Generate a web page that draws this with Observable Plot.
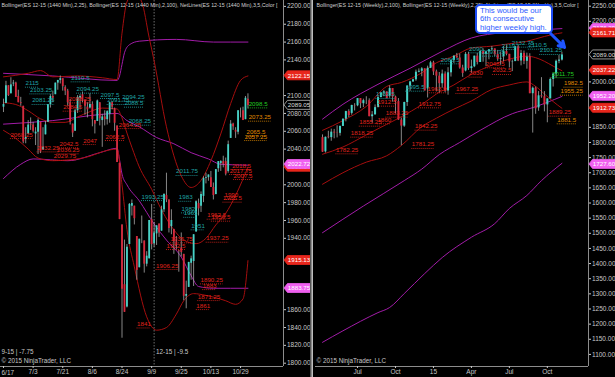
<!DOCTYPE html>
<html><head><meta charset="utf-8">
<script src="https://cdn.jsdelivr.net/npm/d3@7"></script>
<script src="https://cdn.jsdelivr.net/npm/@observablehq/plot@0.6"></script>
<style>
html,body{margin:0;padding:0;background:#000;}
#wrap{position:relative;width:615px;height:377px;background:#000;overflow:hidden;font-family:"Liberation Sans",Arial,sans-serif;}
#left{position:absolute;left:0;top:0;}
#right{position:absolute;left:313px;top:0;}
#sep{position:absolute;left:310px;top:0;width:3px;height:377px;background:linear-gradient(to right,#3a3a3a,#d8d8d8);}
#callout{position:absolute;left:475px;top:4px;width:69px;height:25px;padding:1px 2px 0 3px;border:2px solid #1d4cf5;border-radius:5px;background:#fff;color:#2f5cff;font-size:7.8px;line-height:8.3px;white-space:nowrap;font-family:"Liberation Sans",Arial,sans-serif;}
</style></head><body>
<div id="wrap"><div id="left"></div><div id="sep"></div><div id="right"></div><div id="callout">This would be our<br>6th consecutive<br>higher weekly high.</div></div>
<script>
// ---------------- DAILY (left) ----------------
const dayTickIdx = [0,12,24,36,48,60,72,84,96];
const dayTickLbl = ["6/17","7/3","7/21","8/6","8/24","9/9","9/25","10/13","10/29"];
const dayOpen = [2087,2091,2111,2102,2113,2114,2099,2092,2088,2051,
2057,2068,2067,2057,2059,2070,2039,2056,2070,2090,
2099,2101,2114,2117,2119,2109,2105,2092,2068,2060,
2083,2097,2101,2095,2087,2086,2090,2072,2071,2092,
2072,2076,2073,2079,2092,2085,2066,2024,1955,1888,
1863,1933,1976,1976,1942,1907,1941,1937,1911,1917,
1961,1934,1945,1956,1948,1972,1988,1983,1953,1950,
1936,1926,1929,1922,1875,1885,1912,1914,1947,1979,
1976,1987,2007,2008,2008,1997,1989,2018,2024,2026,
2026,2015,2052,2068,2061,2059,2082,2083,2073,2096];
const dayHigh = [2096,2116,2111,2120,2117,2115,2106,2098,2088,2064,
2072,2075,2070,2064,2074,2070,2064,2071,2090,2101,
2105,2114,2117,2122,2119,2111,2107,2096,2068,2085,
2100,2101,2104,2095,2092,2102,2093,2072,2095,2092,
2079,2083,2083,2092,2093,2086,2066,2024,1955,1938,
1933,1979,1983,1976,1942,1939,1965,1937,1925,1960,
1978,1958,1954,1956,1976,1990,2013,1983,1972,1950,
1942,1926,1946,1922,1892,1913,1920,1944,1982,1984,
1992,2009,2013,2011,2015,2002,2017,2026,2027,2032,
2030,2049,2072,2069,2064,2083,2086,2087,2099,2102];
const dayLow = [2081,2091,2099,2102,2110,2098,2092,2088,2046,2046,
2056,2061,2058,2044,2034,2035,2039,2056,2070,2086,
2092,2101,2106,2113,2105,2100,2088,2067,2053,2060,
2080,2084,2092,2078,2075,2085,2065,2057,2071,2066,
2042,2066,2067,2069,2084,2060,2025,1961,1828,1857,
1862,1933,1965,1955,1893,1907,1934,1901,1908,1917,
1927,1930,1932,1941,1948,1969,1980,1946,1944,1922,
1927,1902,1919,1870,1861,1885,1893,1886,1947,1965,
1969,1980,2001,2004,1997,1983,1989,2014,2015,2019,
2010,2013,2052,2061,2052,2056,2075,2072,2073,2085];
const dayClose = [2090,2111,2100,2112,2114,2098,2092,2091,2048,2053,
2067,2067,2060,2059,2072,2037,2042,2067,2090,2099,
2097,2114,2117,2119,2110,2105,2092,2070,2058,2083,
2098,2099,2094,2088,2084,2090,2073,2068,2094,2074,
2076,2073,2082,2092,2087,2069,2025,1961,1883,1857,
1930,1978,1979,1962,1904,1939,1941,1911,1920,1960,
1933,1946,1954,1946,1972,1989,1983,1951,1960,1936,
1932,1925,1924,1875,1877,1913,1917,1944,1981,1973,
1989,2007,2008,2011,1997,1988,2017,2026,2026,2023,
2012,2045,2068,2065,2059,2083,2082,2072,2097,2089];

const dayRedUpIdx = [0,10,15,20,30,40,46,48,50,53,56,59,61,66,72,76,80,84,88,92,96,99];
const dayRedUp    = [2121,2125,2128,2121,2122,2120,2118,2170,2205,2215,2205,2165,2139,2065,2010,1997,2005,2027,2057,2091,2117,2122];
const dayRedMidIdx = [0,5,10,15,20,25,30,35,40,46,48,50,52,55,60,64,70,73,78,82,86,90,94,99];
const dayRedMid    = [2092,2090,2083,2074,2070,2070,2076,2082,2086,2085,2075,2058,2042,2020,1995,1972,1946,1938,1934,1940,1955,1968,1988,2020];
const dayRedLowIdx = [0,5,10,14,20,27,35,40,46,48,50,53,58,62,66,70,73,77,82,90,94,97,99];
const dayRedLow    = [2061,2052,2040,2030,2027,2028,2032,2037,2040,2000,1950,1908,1852,1837,1840,1855,1870,1878,1876,1870,1866,1872,1915];
const dayPurUpIdx = [0,20,46,47,48,49,51,55,70,85,99];
const dayPurUp    = [2125,2122,2117,2122,2135,2148,2157,2161,2163,2160,2160];
const dayPurMidIdx = [0,20,40,46,50,55,62,69,76,83,88,99];
const dayPurMid    = [2068,2072,2079,2080,2072,2065,2053,2046,2036,2029,2023,2022];
const dayPurLowIdx = [0,7,12,26,39,46,47,48,50,55,61,66,72,76,79,85,99];
const dayPurLow    = [2007,2023,2029,2027,2036,2041,2028,2012,2000,1982,1956,1938,1919,1898,1886,1884,1884];

const dayLblText = ["2115","2103.25","2081.25","2110.5","2094.25","2097.5","2091.75","2094.25","2088.5","2068.25","2011.75","1993.25","1983","1982","1965","1951",
"2068.25","2032.25","2042.5","2036.25","2029.75","2047","2062.5","2088.25","2084.5","2064.25","1841","1906.25","1935.75","1932.5","1890.25","1883","1871.25","1861","1937.25","1962.5","1959.5","1990","1985.5","2018.5","2017.75","2007.5",
"2073.25","2065.5","2057.25","2098.5"];
const dayLblIdx = [8.9,10.7,11.6,27.4,29.6,39.3,42,48.1,49,50.7,69.9,55.9,71,72.1,73,76,
2.8,13.6,22.7,21.7,20.4,32.3,41.3,26.4,24.2,46.7,54.1,61.8,67.6,66,79.8,80.7,78.7,78.1,82.1,82.5,84.2,89.5,88.9,92.6,91.6,93.2,
99.3,98.4,97.7,99.3];
const dayLblPrice = [2113.9,2106.4,2094.5,2119.9,2107.2,2101.2,2094.5,2098.2,2091.5,2071.3,2014.9,1986.8,1986,1973,1968,1954,
2056.3,2041.4,2045.9,2039.2,2032.1,2049.6,2054.1,2096.3,2087,2067.5,1844,1909.5,1939.4,1931.9,1893.4,1887,1874.7,1864.6,1940.1,1965.9,1963.7,1988,1985,2021.6,2016,2010.4,
2075.8,2059,2054.1,2090.7];
const dayLblKind = ["hi","hi","hi","hi","hi","hi","hi","hi","hi","hi","hi","hi","hi","hi","hi","hi",
"lo","lo","lo","lo","lo","lo","lo","lo","lo","lo","lo","lo","lo","lo","lo","lo","lo","lo","lo","lo","lo","lo","lo","lo","lo","lo",
"or","or","or","gr"];

const dayYTicks = [2200,2180,2160,2140,2100,2080,2060,2040,2000,1980,1960,1940,1860,1840,1820,1800];
const dayMarkVals = [2122.15,2089.05,2019.64,2022.72,1915.13,1883.75];
const dayMarkKind = ["red","last","red","pur","red","pur"];
const dayRolloverIdx = 61;
const dayTitle = "Bollinger(ES 12-15 (1440 Min),2,25), Bollinger(ES 12-15 (1440 Min),2,100), NetLines(ES 12-15 (1440 Min),3,5,Color [";

// ---------------- WEEKLY (right) ----------------
const wkTickIdx = [12,25,38,51,64,77];
const wkTickLbl = ["Jul","Oct","15","Apr","Jul","Oct"];
const wkOpen = [1816,1769,1818,1816,1834,1831,1830,1853,1877,1902,
1896,1922,1921,1945,1928,1938,1938,1885,1891,1915,
1948,1963,1967,1953,1978,1950,1935,1874,1854,1932,
1986,2000,2007,2032,2035,2043,1977,2045,2063,2033,
2019,1994,2026,1970,2030,2071,2085,2079,2046,2036,
2091,2044,2050,2085,2064,2100,2091,2099,2106,2109,
2090,2075,2084,2100,2091,2066,2067,2116,2069,2094,
2068,2082,1961,1979,1914,1954,1951,1924,1944,2008,
2026,2068,2072];
const wkHigh = [1825,1818,1837,1844,1843,1855,1854,1877,1903,1908,
1923,1928,1945,1945,1943,1951,1944,1902,1924,1953,
1965,1971,1967,1987,1978,1953,1945,1880,1933,1986,
2002,2009,2039,2043,2047,2043,2052,2068,2068,2039,
2031,2039,2033,2047,2072,2086,2094,2092,2055,2097,
2098,2072,2085,2094,2103,2109,2100,2106,2117,2109,
2104,2098,2117,2119,2091,2072,2117,2122,2104,2102,
2095,2093,1983,1983,1968,2014,1968,1944,2013,2027,
2072,2087,2098];
const wkLow = [1767,1765,1812,1804,1812,1815,1821,1853,1868,1882,
1890,1904,1918,1912,1915,1925,1885,1864,1891,1915,
1948,1951,1944,1946,1933,1894,1873,1789,1850,1919,
1969,1998,2002,2030,2017,1970,1947,2044,2021,1967,
1963,1979,1964,1956,2016,2061,2078,2042,2015,2033,
2038,2028,2047,2056,2064,2065,2050,2073,2102,2083,
2068,2055,2066,2086,2046,2034,2067,2067,2053,2057,
2042,1961,1831,1893,1903,1946,1901,1865,1944,1983,
2012,2060,2069];
const wkClose = [1768,1817,1816,1834,1831,1830,1853,1877,1902,1889,
1922,1921,1945,1928,1938,1938,1885,1891,1915,1948,
1963,1967,1945,1978,1950,1935,1874,1854,1932,1986,
2000,2007,2032,2035,2043,1970,2045,2063,2033,2019,
1994,2026,1970,2030,2071,2085,2079,2046,2028,2091,
2044,2050,2085,2064,2100,2091,2099,2106,2109,2090,
2075,2077,2100,2091,2066,2067,2116,2069,2094,2068,
2082,1961,1979,1911,1954,1951,1924,1944,2008,2026,
2068,2072,2089];

const wkRedIdx   = [0,7,15,22,27,34,39,45,51,58,64,70,73,76,79,82];
const wkRedUp    = [1840,1872,1919,1985,1998,2030,2063,2085,2112,2118,2126,2134,2142,2150,2157,2162];
const wkRedMid   = [1761,1785,1825,1860,1885,1925,1960,1990,2025,2055,2075,2085,2080,2068,2052,2037];
const wkRedLow   = [1662,1700,1735,1756,1790,1852,1880,1910,1937,1975,1990,2000,1985,1960,1935,1913];
const wkPurUpIdx = [0,7,19,30,41,51,62,72,82];
const wkPurUp    = [1877,1926,1992,2045,2101,2145,2163,2170,2176];
const wkPurMidIdx = [0,14,28,34,40,47,54,65,72,82];
const wkPurMid    = [1502,1590,1674,1712,1760,1800,1840,1895,1915,1952];
const wkPurLowIdx = [0,7,19,23,28,35,41,51,59,64,70,75,82];
const wkPurLow    = [1140,1178,1238,1255,1301,1367,1420,1487,1532,1582,1625,1674,1731];

const wkLblText = ["1782.25","1818.25","1855.25","1860","1883.25","1912.5","1912.75","1842.25","1781.25","1967.25","1963.5","2048.5","2032.5","2030","1889.25",
"1932.5","1995.5","2066.5","2090","2097.75","2119","2132.75","2110.5","2101.25",
"2011.75","1982.5","1955.25","1881.5"];
const wkLblIdx = [4.6,9.7,12.6,18.8,21.7,18.8,32.9,31.7,30.6,45.7,36,55.9,58.2,50.2,77.5,
18.3,28.5,40.5,50.2,54.8,61.4,64.8,70.5,74.4,
78.6,82.7,81.5,80.4];
const wkLblPrice = [1775.7,1830.7,1867,1874.8,1896.8,1933.1,1927.6,1853.8,1793.3,1975,1977.1,2059.7,2037.7,2028.9,1900,
1958.4,1982.6,2072.9,2109.2,2098.2,2120,2128,2121.3,2103.7,
2027,1995.7,1969.3,1874.8];
const wkLblKind = ["lo","lo","lo","lo","lo","lo","lo","lo","lo","lo","lo","lo","lo","lo","lo",
"hi","hi","hi","hi","hi","hi","hi","hi","hi",
"gr","or","or","or"];

const wkYTicks = [2250,2200,2000,1850,1800,1750,1700,1650,1600,1550,1500,1450,1400,1350,1300,1250,1200,1150,1100];
const wkMarkVals = [2176.29,2161.71,2089.00,2037.22,1952.20,1912.73,1727.60];
const wkMarkKind = ["pur","red","last","red","pur","red","pur"];
const wkTitle = "Bollinger(ES 12-15 (Weekly),2,100), Bollinger(ES 12-15 (Weekly),2,25), NetLines(ES 12-15 (Weekly),3,5,Color [";
const calloutArrow = [{x1: 78.1, y1: 2160, x2: 82.9, y2: 2114}];

// ---------------- styles ----------------
const FONT = "'Liberation Sans', Arial, sans-serif";
const UP = "#45d3c7", DOWN = "#d8283c", WICK = "#a8a8a8";
const BAND_RED = "#a50e0e", BAND_PUR = "#a21ca8";
const LBL = {hi: "#1fa3a3", lo: "#e0231c", or: "#e08a00", gr: "#22cc22"};
const markerStyle = {
  red: {bg: "#e8261c", fg: "#ffffff", border: "#e8261c"},
  pur: {bg: "#f060f0", fg: "#ffffff", border: "#f060f0"},
  last: {bg: "#000000", fg: "#dddddd", border: "#bbbbbb"}
};

function bars(o, h, l, c) { return o.map((v, i) => ({i, o: v, h: h[i], l: l[i], c: c[i]})); }
function pts(idx, vals) { return idx.map((i, k) => ({i, v: vals[k]})); }
function lbls(t, idx, p, kind) { return t.map((s, k) => ({t: s, i: idx[k], p: p[k], k: kind[k]})); }

function axisMarkers(vals, kinds) {
  return (index, scales, values, dims) => {
    const g = d3.create("svg:g");
    const x0 = dims.width - dims.marginRight;
    vals.forEach((v, k) => {
      const s = markerStyle[kinds[k]];
      const y = scales.y(v);
      g.append("path")
        .attr("d", `M${x0 + 1},${y}L${x0 + 4.5},${y - 4.5}H${x0 + 27}V${y + 4.5}H${x0 + 4.5}Z`)
        .attr("fill", s.bg).attr("stroke", s.border).attr("stroke-width", 0.8);
      g.append("text").attr("x", x0 + 16).attr("y", y).attr("dy", "0.35em")
        .attr("text-anchor", "middle").attr("fill", s.fg).attr("font-size", 6.2)
        .attr("font-family", FONT).text(v.toFixed(2));
    });
    return g.node();
  };
}

function candleMarks(data, bodyW) {
  return [
    Plot.ruleX(data, {x: "i", y1: "l", y2: "h", stroke: WICK, strokeWidth: 0.8}),
    Plot.ruleX(data.filter(d => d.c >= d.o), {x: "i", y1: "o", y2: "c", stroke: UP, strokeWidth: bodyW}),
    Plot.ruleX(data.filter(d => d.c < d.o), {x: "i", y1: "o", y2: "c", stroke: DOWN, strokeWidth: bodyW})
  ];
}

function labelMarks(data, charW) {
  const out = [];
  for (const k of Object.keys(LBL)) {
    const sub = data.filter(d => d.k === k);
    out.push(Plot.ruleY(sub, {y: "p", x1: "i", x2: d => d.i + d.t.length * charW, dy: 4, stroke: LBL[k], strokeWidth: 0.8, strokeDasharray: "1,1"}));
    out.push(Plot.text(sub, {x: "i", y: "p", text: "t", fill: LBL[k], textAnchor: "start", fontSize: 6.2}));
  }
  return out;
}

function bandMarks(list) {
  return list.map(([data, color]) => Plot.line(data, {x: "i", y: "v", stroke: color, strokeWidth: 1, curve: "monotone-x", clip: true}));
}

function xAxisMarks(ticks, labels) {
  return [
    Plot.axisX(ticks, {anchor: "bottom", tickSize: 2, tickPadding: 1, fontSize: 6.5, color: "#c8c8c8", label: null,
      tickFormat: d => (ticks.indexOf(d) === 0 && labels === dayTickLbl) ? "" : labels[ticks.indexOf(d)]}),
  ];
}

// ---------------- left chart ----------------
const dayXDomain = [-1.21, 113.4];
const dayYDomain = [1796.3, 2206.6];
const dayBars = bars(dayOpen, dayHigh, dayLow, dayClose);
const dayLabels = lbls(dayLblText, dayLblIdx, dayLblPrice, dayLblKind);

const left = Plot.plot({
  width: 310, height: 377,
  marginLeft: 0, marginRight: 27, marginTop: 0, marginBottom: 11,
  style: {background: "#000", color: "#c8c8c8", fontFamily: FONT, fontSize: "6.5px"},
  x: {type: "linear", domain: dayXDomain, label: null},
  y: {domain: dayYDomain, label: null},
  marks: [
    Plot.ruleX([dayRolloverIdx], {stroke: "#8a8a8a", strokeDasharray: "1.5,1.5", strokeWidth: 0.8}),
    ...bandMarks([
      [pts(dayPurUpIdx, dayPurUp), BAND_PUR],
      [pts(dayPurMidIdx, dayPurMid), BAND_PUR],
      [pts(dayPurLowIdx, dayPurLow), BAND_PUR],
      [pts(dayRedUpIdx, dayRedUp), BAND_RED],
      [pts(dayRedMidIdx, dayRedMid), BAND_RED],
      [pts(dayRedLowIdx, dayRedLow), BAND_RED]
    ]),
    ...candleMarks(dayBars, 1.8),
    ...labelMarks(dayLabels, 1.3),
    Plot.text([dayTitle], {text: d => d, frameAnchor: "top-left", textAnchor: "start", lineAnchor: "top", dx: 1, dy: 3, fontSize: 5.3, fill: "#d0d0d0"}),
    Plot.text(["9-15 | -7.75"], {text: d => d, frameAnchor: "bottom-left", textAnchor: "start", dx: 1, dy: -13, fontSize: 6.3, fill: "#c8c8c8"}),
    Plot.text(["12-15 | -9.5"], {x: () => dayRolloverIdx, text: d => d, frameAnchor: "bottom", textAnchor: "start", dx: 2, dy: -13, fontSize: 6.3, fill: "#c8c8c8"}),
    Plot.text(["© 2015 NinjaTrader, LLC"], {text: d => d, frameAnchor: "bottom-left", textAnchor: "start", dx: 1, dy: -4, fontSize: 6.3, fill: "#c8c8c8"}),
    Plot.ruleX([dayXDomain[1]], {stroke: "#8c8c8c"}),
    Plot.ruleY([dayYDomain[0]], {stroke: "#8c8c8c"}),
    Plot.axisY(dayYTicks, {anchor: "right", tickSize: 2, tickPadding: 1.5, fontSize: 6.5, color: "#c8c8c8", label: null, tickFormat: d3.format(".2f")}),
    ...xAxisMarks(dayTickIdx, dayTickLbl),
    Plot.text([dayTickLbl[0]], {x: () => dayTickIdx[0], text: d => d, frameAnchor: "bottom", textAnchor: "start", lineAnchor: "top", dx: -2, dy: 3.5, fontSize: 6.5, fill: "#c8c8c8", clip: false}),
    axisMarkers(dayMarkVals, dayMarkKind)
  ]
});
document.getElementById("left").appendChild(left);

// ---------------- right chart ----------------
const wkXDomain = [-2.4, 91.1];
const wkYDomain = [1060.1, 2268.8];
const wkBars = bars(wkOpen, wkHigh, wkLow, wkClose);
const wkLabels = lbls(wkLblText, wkLblIdx, wkLblPrice, wkLblKind);

const right = Plot.plot({
  width: 302, height: 377,
  marginLeft: 2, marginRight: 27, marginTop: 0, marginBottom: 11,
  style: {background: "#000", color: "#c8c8c8", fontFamily: FONT, fontSize: "6.5px"},
  x: {type: "linear", domain: wkXDomain, label: null},
  y: {domain: wkYDomain, label: null},
  marks: [
    ...bandMarks([
      [pts(wkPurUpIdx, wkPurUp), BAND_PUR],
      [pts(wkPurMidIdx, wkPurMid), BAND_PUR],
      [pts(wkPurLowIdx, wkPurLow), BAND_PUR],
      [pts(wkRedIdx, wkRedUp), BAND_RED],
      [pts(wkRedIdx, wkRedMid), BAND_RED],
      [pts(wkRedIdx, wkRedLow), BAND_RED]
    ]),
    ...candleMarks(wkBars, 2),
    ...labelMarks(wkLabels, 1.1),
    Plot.text([wkTitle], {text: d => d, frameAnchor: "top-left", textAnchor: "start", lineAnchor: "top", dx: 1, dy: 3, fontSize: 5.3, fill: "#d0d0d0"}),
    Plot.text(["© 2015 NinjaTrader, LLC"], {text: d => d, frameAnchor: "bottom-left", textAnchor: "start", dx: 1, dy: -4, fontSize: 6.3, fill: "#c8c8c8"}),
    Plot.arrow(calloutArrow, {x1: "x1", y1: "y1", x2: "x2", y2: "y2", stroke: "#1f55ff", strokeWidth: 3, headLength: 9}),
    Plot.ruleX([wkXDomain[1]], {stroke: "#8c8c8c"}),
    Plot.ruleY([wkYDomain[0]], {stroke: "#8c8c8c"}),
    Plot.axisY(wkYTicks, {anchor: "right", tickSize: 2, tickPadding: 1.5, fontSize: 6.5, color: "#c8c8c8", label: null, tickFormat: d3.format(".2f")}),
    ...xAxisMarks(wkTickIdx, wkTickLbl),
    axisMarkers(wkMarkVals, wkMarkKind)
  ]
});
document.getElementById("right").appendChild(right);
</script>
</body></html>
